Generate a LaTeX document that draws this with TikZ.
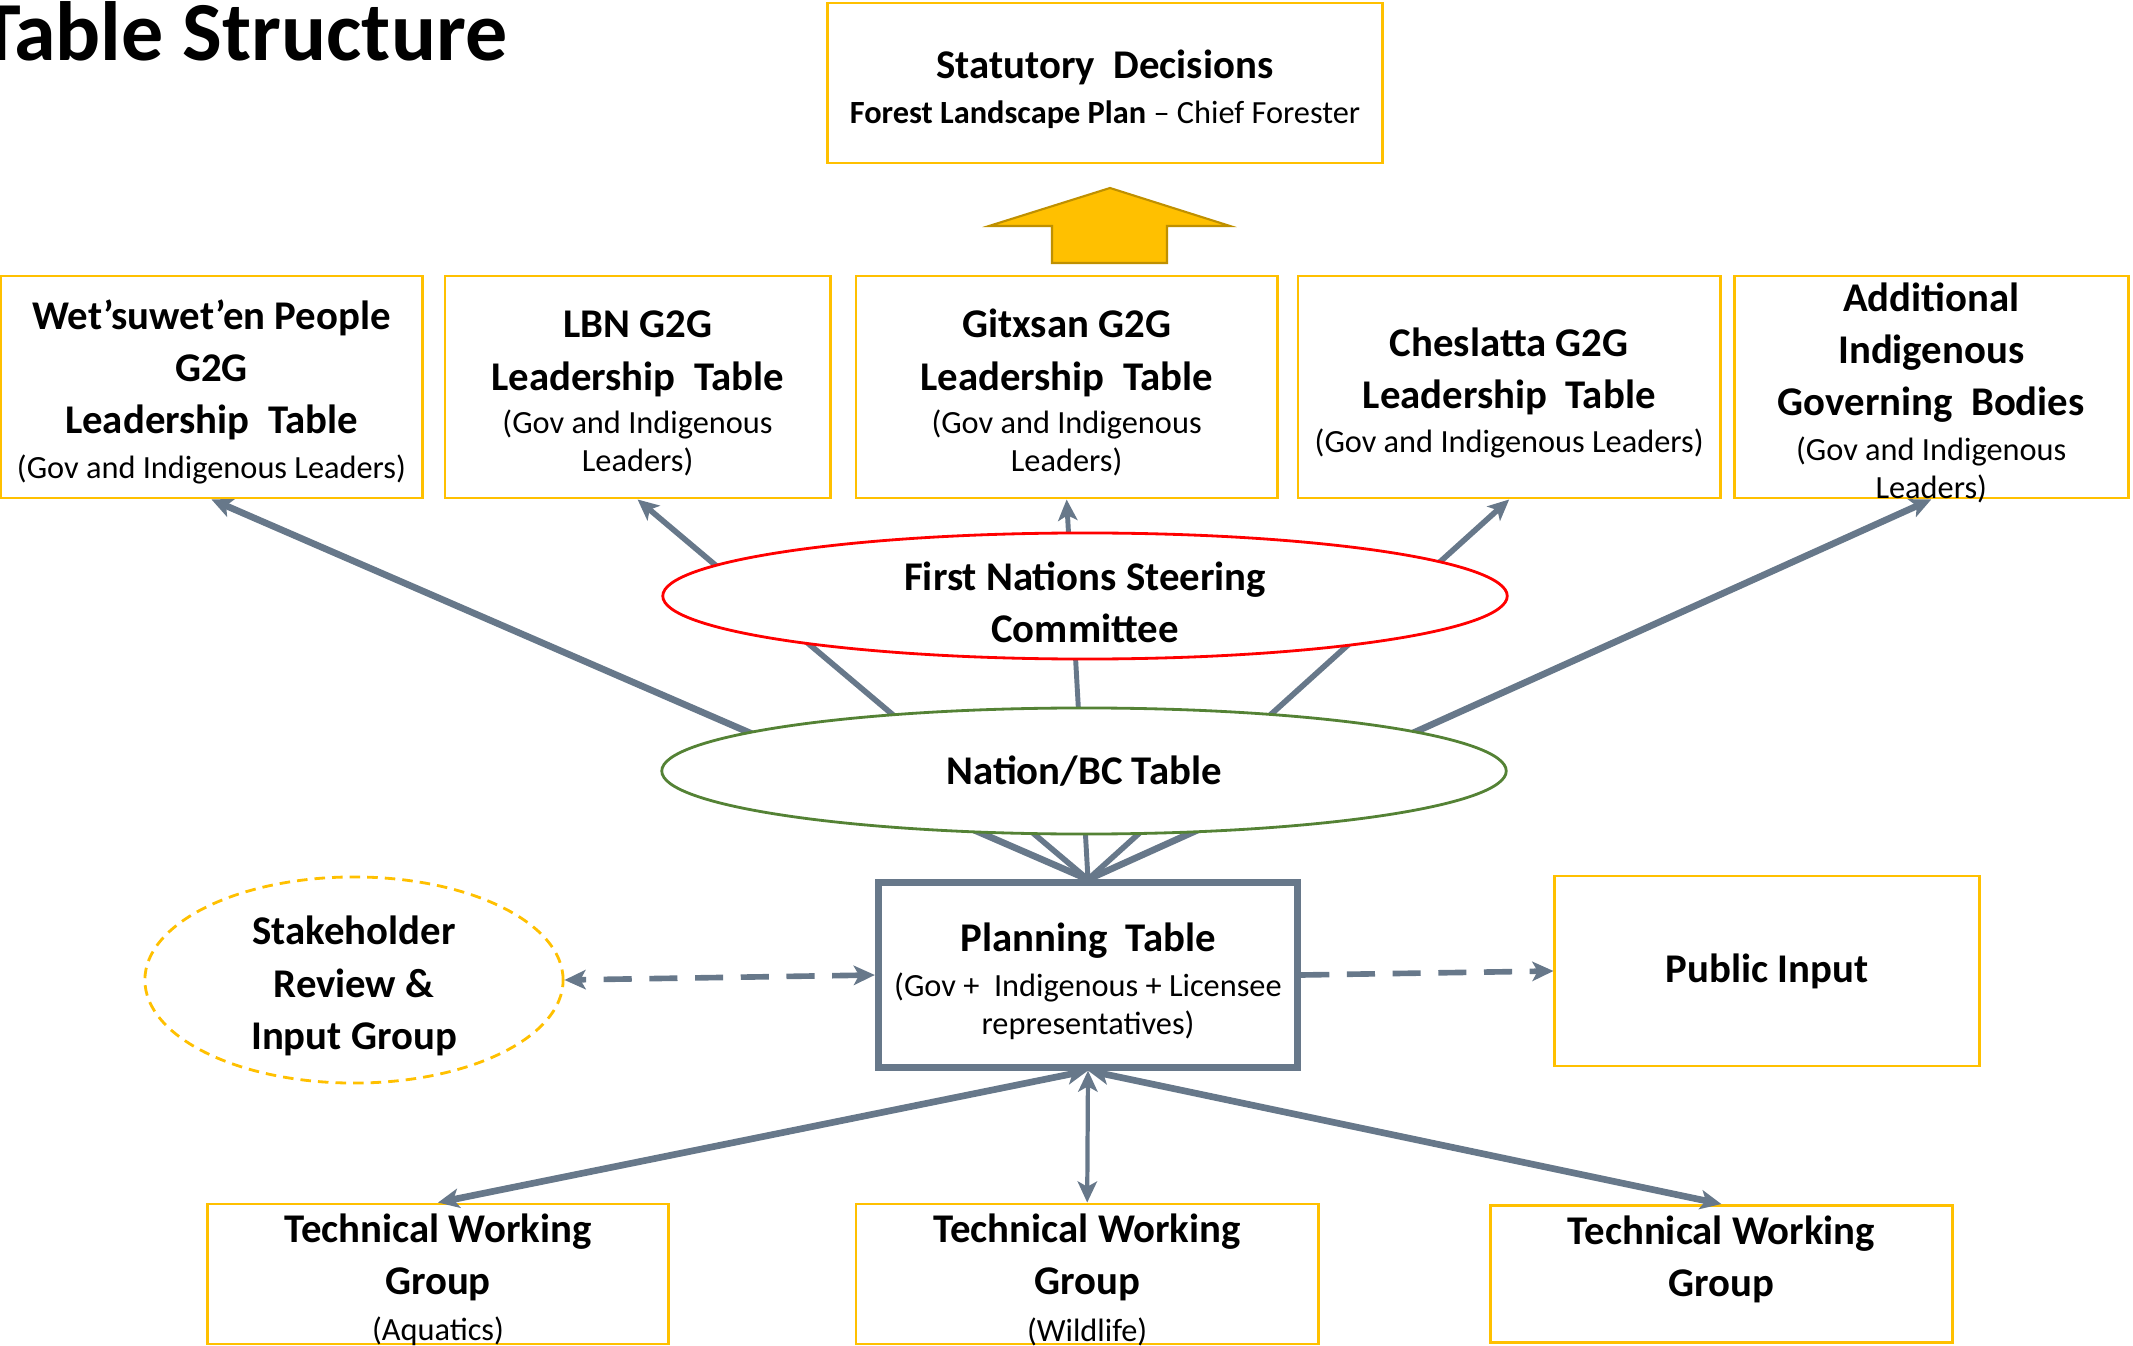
\documentclass[tikz,border=0pt]{standalone}
\usepackage{fontspec}
\setmainfont{Carlito}
\usepackage{tikz}
\usetikzlibrary{positioning}
\usetikzlibrary{arrows.meta,backgrounds,shapes.geometric}

\definecolor{boxyellow}{HTML}{FFC000}
\definecolor{arrowedge}{HTML}{BF9000}
\definecolor{linkgray}{HTML}{67788A}
\definecolor{fnred}{HTML}{FF0000}
\definecolor{bcgreen}{HTML}{548235}

\newcommand{\headtxt}{\fontsize{11.6}{14.8}\selectfont\bfseries}
\newcommand{\notetxt}{\fontsize{9.2}{10.8}\selectfont\mdseries}
\newcommand{\lift}{\rule{0pt}{11.5pt}}

\tikzset{headline/.style={font=\fontsize{23.9}{28}\selectfont\bfseries, anchor=base east, inner sep=0pt}}
\tikzset{board/.style={draw=boxyellow, line width=0.8pt, rectangle, fill=white, align=center, font=\headtxt, inner xsep=0pt, inner ysep=-0.4cm, minimum height=2.22cm}}
\tikzset{oval/.style={ellipse, line width=0.8pt, fill=white, align=center, font=\headtxt, inner xsep=0pt, inner ysep=-0.2cm, minimum width=8.44cm, minimum height=1.26cm}}
\tikzset{plan/.style={draw=linkgray, line width=2pt, rectangle, fill=white, align=center, font=\headtxt, inner xsep=0pt, inner ysep=-0.3cm, minimum width=4.19cm, minimum height=1.84cm}}
\tikzset{link/.style={draw=linkgray, line width=1.9pt, -{Stealth[length=6pt, width=5.5pt, inset=1.5pt]}}}
\tikzset{twoway/.style={draw=linkgray, line width=1.9pt, {Stealth[length=6pt, width=5.5pt, inset=1.5pt]}-{Stealth[length=6pt, width=5.5pt, inset=1.5pt]}}}
\tikzset{dashlink/.style={draw=linkgray, line width=1.6pt, dash pattern=on 8pt off 5pt}}

\begin{document}
\begin{tikzpicture}[x=0.01cm, y=-0.01cm]
	\useasboundingbox (0,0) rectangle (2133,1346);
	
	\node[headline] (title) at (508,61) {Table Structure};
	
	% decision box and big arrow
	\node[board, minimum width=5.54cm, minimum height=1.60cm] (statutory) at (1105,83)
		{\lift Statutory\ \ Decisions\\[-2pt] \notetxt{\bfseries Forest Landscape Plan} -- Chief Forester};
	\draw[fill=boxyellow, draw=arrowedge, line width=0.6pt] (1110,188) -- (1230,226) -- (1167,226) -- (1167,263)
		-- (1052,263) -- (1052,226) -- (989,226) -- cycle;
	
	% leadership tables
	\node[board, minimum width=4.21cm] (wet) at (211.5,387)
		{\lift Wet’suwet’en People\\G2G\\Leadership\ \ Table\\[-2pt] \notetxt (Gov and Indigenous Leaders)};
	\node[board, minimum width=3.85cm] (lbn) [right=0.20cm of wet]
		{\lift LBN G2G\\Leadership\ \ Table\\[-2.3pt] \notetxt (Gov and Indigenous\\[-4pt] \notetxt Leaders)};
	\node[board, minimum width=4.21cm] (gitxsan) [right=0.23cm of lbn]
		{\lift Gitxsan G2G\\Leadership\ \ Table\\[-2.3pt] \notetxt (Gov and Indigenous\\[-4pt] \notetxt Leaders)};
	\node[board, minimum width=4.22cm] (cheslatta) [right=0.18cm of gitxsan]
		{\lift Cheslatta G2G\\Leadership\ \ Table\\[-2.3pt] \notetxt (Gov and Indigenous Leaders)};
	\node[board, minimum width=3.94cm] (additional) [right=0.11cm of cheslatta]
		{\lift Additional\\Indigenous\\Governing\ \ Bodies\\[-2pt] \notetxt (Gov and Indigenous\\[-4pt] \notetxt Leaders)};
	
	% committees
	\node[oval, draw=fnred] (steering) at (1085,596) {\lift First Nations Steering\\Committee};
	\node[oval, draw=bcgreen] (nationbc) at (1084,771) {Nation/BC Table};
	
	% planning level
	\node[plan] (planning) at (1088,975)
		{\lift Planning\ \ Table\\[-2pt] \notetxt (Gov +\ \ Indigenous + Licensee\\[-4pt] \notetxt representatives)};
	\node[oval, draw=boxyellow, dash pattern=on 3pt off 2pt, minimum width=4.18cm, minimum height=2.06cm] (stakeholder) at (354,980)
		{\lift Stakeholder\\Review \&\\Input Group};
	\node[board, minimum width=4.24cm, minimum height=1.90cm] (public) at (1767,971) {Public Input};
	
	% technical working groups
	\node[board, minimum width=4.60cm, minimum height=1.40cm] (aquatics) at (438,1274)
		{\lift Technical Working\\Group\\[-1.7pt] \notetxt (Aquatics)};
	\node[board, minimum width=4.62cm, minimum height=1.40cm] (wildlife) [right=1.85cm of aquatics]
		{\lift Technical Working\\Group\\[-1.7pt] \notetxt (Wildlife)};
	\node[board, minimum width=4.62cm, minimum height=1.37cm] (techgroup) [right=1.69cm of wildlife]
		{Technical Working\\Group\rule[-10.1pt]{0pt}{0pt}};
	
	\begin{scope}[on background layer]
		\draw[link] (planning.north) -- (wet.south);
		\draw[link, line width=1.6pt] (planning.north) -- (lbn.south);
		\draw[link, line width=1.4pt] (planning.north) -- (gitxsan.south);
		\draw[link, line width=1.6pt] (planning.north) -- (cheslatta.south);
		\draw[link] (planning.north) -- (additional.south);
	\end{scope}
	
	\draw[twoway] (planning.south) -- (aquatics.north);
	\draw[twoway, line width=1.2pt] (planning.south) -- (wildlife.north);
	\draw[twoway] (planning.south) -- (techgroup.north);
	
	\draw[dashlink, {Stealth[length=6pt, width=5.5pt, inset=1.5pt]}-{Stealth[length=6pt, width=5.5pt, inset=1.5pt]}] (planning.west) -- (stakeholder.east);
	\draw[dashlink, -{Stealth[length=6pt, width=5.5pt, inset=1.5pt]}] (planning.east) -- (public.west);
\end{tikzpicture}
\end{document}
